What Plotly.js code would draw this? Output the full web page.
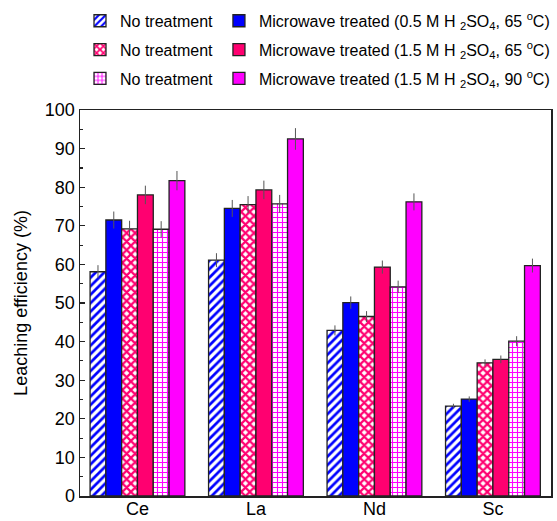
<!DOCTYPE html>
<html>
<head>
<meta charset="utf-8">
<script src="https://cdn.plot.ly/plotly-3.0.1.min.js"></script>
<style>html,body{margin:0;padding:0;background:#fff;}#chart{width:557px;height:521px;}</style>
</head>
<body>
<div id="chart"></div>
<script>
const categories = ["Ce", "La", "Nd", "Sc"];

const noTreat05 = [58.1, 61.1, 42.9, 23.3];
const noTreat05Err = [1.7, 1.8, 1.3, 0.6];
const mw05_65 = [71.5, 74.5, 50.1, 25.1];
const mw05_65Err = [2.2, 2.2, 1.6, 0.7];
const noTreat15 = [69.2, 75.5, 46.5, 34.5];
const noTreat15Err = [2.1, 2.2, 1.4, 0.9];
const mw15_65 = [78.0, 79.3, 59.3, 35.4];
const mw15_65Err = [2.4, 2.4, 1.7, 1.0];
const noTreat15b = [69.1, 75.7, 54.2, 40.1];
const noTreat15bErr = [2.1, 2.3, 1.6, 1.3];
const mw15_90 = [81.7, 92.5, 76.2, 59.7];
const mw15_90Err = [2.5, 2.8, 2.2, 1.8];

const labelNo = "No treatment";
const label1 = "Microwave treated (0.5 M H <sub>2</sub>SO<sub>4</sub>, 65 <sup>o</sup>C)";
const label2 = "Microwave treated (1.5 M H <sub>2</sub>SO<sub>4</sub>, 65 <sup>o</sup>C)";
const label3 = "Microwave treated (1.5 M H <sub>2</sub>SO<sub>4</sub>, 90 <sup>o</sup>C)";

const BLUE = "#0000FF", CRIMSON = "#FF0070", MAG = "#FF00FF";
const outline = {color: "#222", width: 1.3};
function err(a){ return {type: "data", array: a, visible: true, color: "#555", thickness: 1, width: 0}; }

const traces = [
  {type: "bar", x: categories, y: noTreat05, name: labelNo, error_y: err(noTreat05Err), legend: "legend", legendgroup: "a",
   marker: {color: "white", line: outline, pattern: {shape: "/", fgcolor: BLUE, bgcolor: "white", size: 6, solidity: 0.45}}},
  {type: "bar", x: categories, y: mw05_65, name: label1, error_y: err(mw05_65Err), legend: "legend2", legendgroup: "b",
   marker: {color: BLUE, line: outline}},
  {type: "bar", x: categories, y: noTreat15, name: labelNo, error_y: err(noTreat15Err), legend: "legend", legendgroup: "c",
   marker: {color: "white", line: outline, pattern: {shape: "x", fgcolor: CRIMSON, bgcolor: "white", size: 6, solidity: 0.6}}},
  {type: "bar", x: categories, y: mw15_65, name: label2, error_y: err(mw15_65Err), legend: "legend2", legendgroup: "d",
   marker: {color: CRIMSON, line: outline}},
  {type: "bar", x: categories, y: noTreat15b, name: labelNo, error_y: err(noTreat15bErr), legend: "legend", legendgroup: "e",
   marker: {color: "white", line: outline, pattern: {shape: "+", fgcolor: MAG, bgcolor: "white", size: 5, solidity: 0.4}}},
  {type: "bar", x: categories, y: mw15_90, name: label3, error_y: err(mw15_90Err), legend: "legend2", legendgroup: "f",
   marker: {color: MAG, line: outline}}
];

const FONT = "Liberation Sans, Arial, sans-serif";
const legendCommon = {
  orientation: "v", yanchor: "top", xanchor: "left", y: 1.275,
  bgcolor: "rgba(0,0,0,0)", borderwidth: 0, tracegroupgap: 5,
  font: {family: FONT, size: 16, color: "#000"}, itemwidth: 30
};

const layout = {
  width: 557, height: 521,
  margin: {l: 80, r: 2, t: 110, b: 25},
  paper_bgcolor: "white", plot_bgcolor: "white",
  font: {family: FONT, size: 17, color: "#000"},
  barmode: "group", bargap: 0.2, bargroupgap: 0,
  showlegend: true,
  legend: Object.assign({}, legendCommon, {x: 0}),
  legend2: Object.assign({}, legendCommon, {x: 0.295}),
  xaxis: {
    type: "category", range: [-0.485, 3.49],
    showline: true, linecolor: "#222", linewidth: 1.5, mirror: true,
    ticks: "", showgrid: false, zeroline: false,
    ticklabelstandoff: -4,
    tickfont: {family: FONT, size: 18}
  },
  yaxis: {
    range: [0, 100], dtick: 10, tick0: 0,
    showline: true, linecolor: "#222", linewidth: 1.5, mirror: true,
    ticks: "inside", ticklen: 5, tickcolor: "#222", tickwidth: 1.2,
    minor: {dtick: 5, ticks: "inside", ticklen: 3, tickcolor: "#222", tickwidth: 1.2},
    showgrid: false, zeroline: false,
    tickfont: {family: FONT, size: 18},
    title: {text: "Leaching efficiency (%)", font: {family: FONT, size: 18}, standoff: 12}
  }
};

Plotly.newPlot("chart", traces, layout, {displayModeBar: false, staticPlot: true});
</script>
</body>
</html>
